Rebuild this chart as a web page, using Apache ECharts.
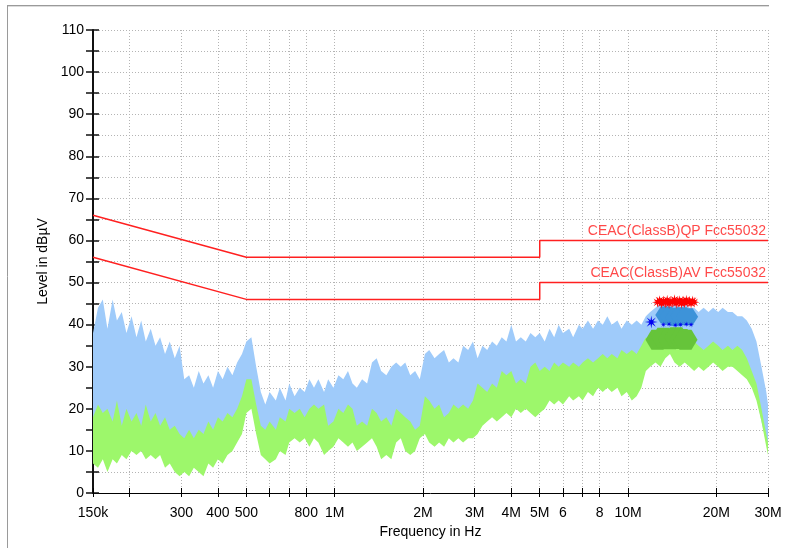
<!DOCTYPE html>
<html><head><meta charset="utf-8">
<script src="https://cdn.jsdelivr.net/npm/echarts@6/dist/echarts.min.js"></script>
<style>html,body{margin:0;padding:0;background:#fff}#c{width:788px;height:548px}</style>
</head><body><div id="c"></div>
<script>
// ---- data (frequency in MHz, level in dBuV) ----
const freqMHz = [
 0.150,0.156,0.162,0.168,0.175,0.181,0.188,0.195,0.203,0.211,0.219,0.227,0.236,0.245,0.254,0.264,0.274,0.285,0.296,
 0.307,0.319,0.331,0.344,0.357,0.371,0.385,0.400,0.415,0.431,0.448,0.465,0.483,
 0.500,0.520,0.540,0.560,0.580,0.600,0.630,0.650,0.680,0.700,0.730,0.760,0.790,0.820,0.850,0.880,0.920,0.950,0.990,
 1.03,1.07,1.11,1.15,1.19,1.24,1.29,1.34,1.39,1.44,1.50,1.56,1.62,1.68,1.74,1.81,1.88,1.95,
 2.03,2.10,2.19,2.27,2.36,2.45,2.54,2.64,2.74,2.85,2.96,3.07,3.19,3.31,3.44,3.57,3.71,3.85,4.00,4.15,4.31,4.48,4.65,4.83,
 5.0,5.2,5.4,5.6,5.8,6.0,6.3,6.5,6.8,7.0,7.3,7.6,7.9,8.2,8.5,8.8,9.2,9.5,9.9,10.3,10.7,11.1,
 11.5,11.9,12.4,12.9,13.4,13.9,14.4,15.0,15.6,16.2,16.8,17.4,18.1,18.8,19.5,20.3,21.0,21.9,22.7,23.6,24.5,25.4,26.4,27.4,28.5,29.6,30.0
];
const peakTop = [
 38,44,46,39,46,41,43,38,42,37,41,36,39,35,37,33,36,32,35,
 27,28,25,29,26,28,25,29,27,30,28,31,33,
 36,37,30,24,21,24,22,25,22,26,23,25,24,27,25,27,24,27,25,
 28,27,29,26,25,27,26,31,32,29,28,30,31,30,31,28,29,27,
 33,34,32,33,34,31,32,31,35,34,36,32,35,34,36,35,37,36,40,36,37,36,38,37,
 38,36,39,37,40,38,39,37,40,39,41,39,41,40,42,40,41,39,41,40,41,40,
 42,43,44,45,45,44,45,44,45,44,44,43,44,43,44,43,44,43,43,42,42,41,39,36,30,24,21
];
const peakBottom = [
 15,16,15,14,14,16,13,15,14,15,13,16,14,15,13,14,12,13,11,
 10,11,10,11,10,13,12,14,13,15,14,16,19,
 23,23,17,12,11,13,12,14,13,16,15,16,15,16,17,16,17,13,14,
 16,15,17,16,13,14,13,16,15,14,15,13,16,15,15,14,12,13,
 19,18,17,18,15,16,18,17,18,17,19,22,21,21,23,22,25,24,25,23,24,23,26,27,
 26,27,26,28,27,28,27,28,27,28,29,28,29,30,29,30,29,31,30,31,30,32,
 34,33,34,33,34,34,33,34,33,32,33,32,31,32,33,32,31,32,31,32,31,29,26,23,17,12,10
];
const avgTop = [
 18,21,19,20,17,22,16,20,17,19,16,21,17,19,16,18,15,16,14,
 13,15,13,15,14,17,15,18,17,19,18,20,23,
 27,27,21,16,15,17,15,18,17,20,19,20,18,20,21,20,21,16,17,
 20,19,21,20,16,17,16,20,19,17,18,16,20,19,18,17,15,16,
 23,22,20,21,18,19,21,20,21,20,22,26,25,24,26,25,29,28,29,26,27,26,30,31,
 29,30,29,31,30,31,30,31,30,31,32,31,32,33,32,33,32,34,33,34,33,35,
 37,36,37,36,37,37,36,37,36,35,36,35,34,35,36,35,34,35,34,35,34,32,29,26,20,14,12
];
const avgBottom = [
 7,6,8,5,8,7,9,8,10,9,10,8,9,8,9,6,7,5,4,
 5,4,6,5,4,7,6,8,7,9,10,12,14,
 19,20,14,9,8,7,8,10,9,12,13,12,13,11,13,12,9,10,11,
 13,12,11,12,10,11,12,13,11,8,9,8,12,13,10,9,10,13,
 14,12,11,12,11,13,12,13,12,13,13,14,16,17,18,17,18,19,18,20,19,20,19,18,
 19,20,22,21,22,21,23,22,23,22,24,23,25,24,25,24,25,23,24,22,23,25,
 29,30,31,30,32,33,31,30,31,30,29,30,29,30,31,30,29,30,30,29,28,27,25,22,17,11,9
];
const limitQPFreq = [0.15, 0.5, 5, 5, 30];
const limitQPLevel = [66, 56, 56, 60, 60];
const limitAVFreq = [0.15, 0.5, 5, 5, 30];
const limitAVLevel = [56, 46, 46, 50, 50];
const limitQPName = 'CEAC(ClassB)QP Fcc55032';
const limitAVName = 'CEAC(ClassB)AV Fcc55032';
// final measurement markers
const qpFinalFreq = [12.6,12.8,13.0,13.2,13.4,13.6,13.8,14.0,14.2,14.4,14.6,14.8,15.0,15.2,15.4,15.6,15.8,16.0,16.2,16.4,16.6,16.8];
const qpFinalLevel = [45.3,45.7,45.1,45.6,45.2,45.8,45.0,45.5,45.3,45.9,45.1,45.4,45.7,45.0,45.6,45.2,45.8,45.3,45.5,45.1,45.6,45.3];
const qpBlobFreq = [13.5,14.0,14.6,15.2,15.9];
const qpBlobLevel = [42.3,42.0,41.7,42.1,41.9];
const avStarFreq = [12.0, 13.2, 13.8, 14.5, 15.1, 15.8, 16.4];
const avStarLevel = [40.6, 40.0, 40.1, 39.9, 40.0, 40.1, 40.0];
const avBlobFreq = [12.6,13.2,13.9,14.6,15.2,15.7];
const avBlobLevel = [36.4,36.9,36.5,37.0,36.6,36.4];
// axis ticks
const tickFreqs = [0.15,0.2,0.3,0.4,0.5,0.6,0.7,0.8,1,2,3,4,5,6,7,8,10,20,30];
const labelFreqs = [0.15,0.3,0.4,0.5,0.8,1,2,3,4,5,6,8,10,20,30];
const labelTexts = ['150k','300','400','500','800','1M','2M','3M','4M','5M','6','8','10M','20M','30M'];

// ---- chart ----
const LOG = v => Math.log10(v);
const xMin = LOG(0.15), xMax = LOG(30);
const FONT = 'Liberation Sans, Arial, sans-serif';

function starPath(n, rOut, rIn) {
  let d = '';
  for (let k = 0; k < 2 * n; k++) {
    const r = k % 2 ? rIn : rOut;
    const a = Math.PI * k / n;
    d += (k ? 'L' : 'M') + (10 + r * Math.sin(a)).toFixed(2) + ',' + (10 - r * Math.cos(a)).toFixed(2);
  }
  return 'path://' + d + 'Z';
}
const HEX = 'path://M0,5L3,0L9,0L12,5L9,10L3,10Z';

function band(top, bottom, color, z) {
  return {
    type: 'custom', z: z, silent: true, clip: true,
    data: [[LOG(freqMHz[0]), top[0]]],
    renderItem: function (params, api) {
      const pts = [];
      for (let i = 0; i < freqMHz.length; i++) pts.push(api.coord([LOG(freqMHz[i]), top[i]]));
      for (let i = freqMHz.length - 1; i >= 0; i--) pts.push(api.coord([LOG(freqMHz[i]), bottom[i]]));
      return { type: 'polygon', shape: { points: pts }, style: { fill: color } };
    }
  };
}
function pairs(fs, ls) { return fs.map((f, i) => [LOG(f), ls[i]]); }

const tickVals = tickFreqs.map(LOG);
const labelVals = labelFreqs.map(LOG);
function fmt(v) {
  const i = labelFreqs.findIndex(f => Math.abs(LOG(f) - v) < 1e-6);
  return i >= 0 ? labelTexts[i] : '';
}

const chart = echarts.init(document.getElementById('c'), null, { renderer: 'canvas' });
chart.setOption({
  animation: false,
  backgroundColor: '#fff',
  textStyle: { fontFamily: FONT },
  grid: { left: 93, right: 20, top: 30, bottom: 55 },
  xAxis: [{
    type: 'value', min: xMin, max: xMax, position: 'bottom',
    name: 'Frequency in Hz', nameLocation: 'middle', nameGap: 31,
    nameTextStyle: { color: '#000', fontSize: 14, fontFamily: FONT },
    axisLine: { show: true, onZero: false, lineStyle: { color: '#000', width: 1 } },
    axisTick: { show: true, length: 4, customValues: tickVals, lineStyle: { color: '#000' } },
    axisLabel: { show: true, customValues: labelVals, formatter: fmt, color: '#000', fontSize: 14, margin: 13, fontFamily: FONT },
    splitLine: { show: true, lineStyle: { color: '#b4b4b4', type: [1, 2], width: 1 } }
  }, {
    type: 'value', min: xMin, max: xMax, position: 'bottom',
    axisLine: { show: false, onZero: false },
    axisTick: { show: true, inside: true, length: 5, customValues: tickVals, lineStyle: { color: '#000' } },
    axisLabel: { show: false }, splitLine: { show: false }
  }],
  yAxis: [{
    type: 'value', min: 0, max: 110, interval: 5, position: 'left',
    name: 'Level in dBµV', nameLocation: 'middle', nameGap: 43,
    nameTextStyle: { color: '#000', fontSize: 14, fontFamily: FONT },
    axisLine: { show: true, onZero: false, lineStyle: { color: '#111', width: 2 } },
    axisTick: { show: true, length: 7, lineStyle: { color: '#111', width: 1.5 } },
    axisLabel: { show: true, formatter: v => (v % 10 === 0 ? String(v) : ''), color: '#000', fontSize: 14, margin: 9, fontFamily: FONT },
    splitLine: { show: true, lineStyle: { color: '#b4b4b4', type: [1, 2], width: 1 } }
  }, {
    type: 'value', min: 0, max: 110, interval: 5, position: 'left',
    axisLine: { show: false, onZero: false },
    axisTick: { show: true, inside: true, length: 6, lineStyle: { color: '#111', width: 1.5 } },
    axisLabel: { show: false }, splitLine: { show: false }
  }],
  graphic: [
    { type: 'line', silent: true, shape: { x1: 7, y1: 5.5, x2: 769, y2: 5.5 }, style: { stroke: '#9a9a9a', lineWidth: 1 } },
    { type: 'line', silent: true, shape: { x1: 7, y1: 6.5, x2: 769, y2: 6.5 }, style: { stroke: '#dcdcdc', lineWidth: 1 } },
    { type: 'line', silent: true, shape: { x1: 7.5, y1: 5, x2: 7.5, y2: 548 }, style: { stroke: '#9a9a9a', lineWidth: 1 } }
  ],
  series: [
    band(peakTop, peakBottom, '#9fcbfa', 2),
    band(avgTop, avgBottom, '#9df76b', 3),
    { type: 'line', z: 4, silent: true, symbol: 'none', data: pairs(limitQPFreq, limitQPLevel),
      lineStyle: { color: '#ff2020', width: 1.5 } },
    { type: 'line', z: 4, silent: true, symbol: 'none', data: pairs(limitAVFreq, limitAVLevel),
      lineStyle: { color: '#ff2020', width: 1.5 } },
    { type: 'scatter', z: 5, silent: true, clip: false, symbolSize: 0, data: [[LOG(limitQPFreq[4]), limitQPLevel[4]]],
      label: { show: true, position: 'top', align: 'right', distance: 2, offset: [-2, 0], formatter: limitQPName, color: '#ff1a1a', fontSize: 14, fontFamily: FONT } },
    { type: 'scatter', z: 5, silent: true, clip: false, symbolSize: 0, data: [[LOG(limitAVFreq[4]), limitAVLevel[4]]],
      label: { show: true, position: 'top', align: 'right', distance: 2, offset: [-2, 0], formatter: limitAVName, color: '#ff1a1a', fontSize: 14, fontFamily: FONT } },
    { type: 'scatter', z: 6, silent: true, symbol: HEX, symbolSize: [24, 20], data: pairs(avBlobFreq, avBlobLevel),
      itemStyle: { color: '#66c43a', opacity: 1 } },
    { type: 'scatter', z: 6, silent: true, symbol: HEX, symbolSize: [22, 17], data: pairs(qpBlobFreq, qpBlobLevel),
      itemStyle: { color: '#3d93d9', opacity: 1 } },
    { type: 'scatter', z: 7, silent: true, symbol: starPath(8, 10, 3), symbolSize: (v, p) => p.dataIndex === 0 ? 13 : 6,
      data: pairs(avStarFreq, avStarLevel), itemStyle: { color: '#0000f0', opacity: 1 } },
    { type: 'scatter', z: 8, silent: true, symbol: starPath(8, 10, 3.5), symbolSize: 11, data: pairs(qpFinalFreq, qpFinalLevel),
      itemStyle: { color: '#ff0000', opacity: 1 } }
  ]
});
</script>
</body></html>
